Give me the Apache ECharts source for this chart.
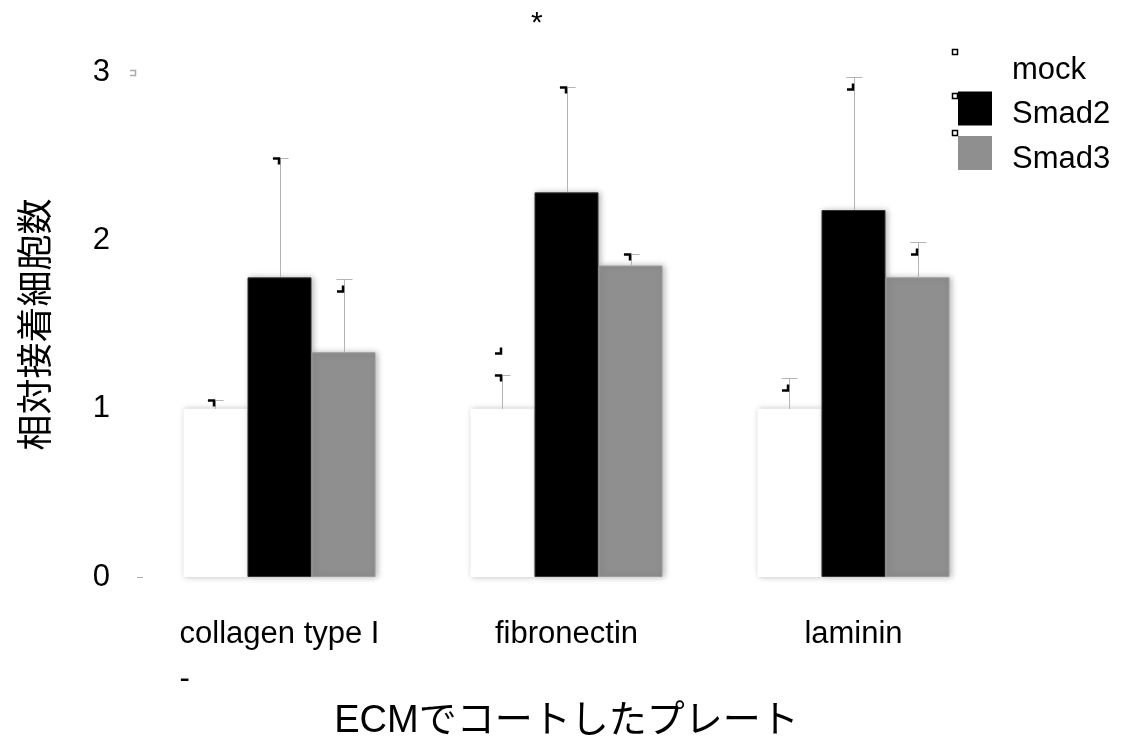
<!DOCTYPE html>
<html>
<head>
<meta charset="utf-8">
<script src="https://cdn.jsdelivr.net/npm/echarts@6/dist/echarts.min.js"></script>
<style>
  html, body { margin: 0; padding: 0; background: #ffffff; }
  #chart { width: 1126px; height: 740px; }
</style>
</head>
<body>
<div id="chart"></div>
<script>
// Plate coatings (second line of the first label is a stray dash)
const categories = ['collagen type I\n-', 'fibronectin', 'laminin'];
const seriesNames = ['mock', 'Smad2', 'Smad3'];

// Relative number of adherent cells (mean) per condition
const mockValues  = [1.00, 1.00, 1.00];
const smad2Values = [1.78, 2.285, 2.18];
const smad3Values = [1.335, 1.85, 1.78];

// Upper end of each error bar
const mockErrTop  = [1.05, 1.20, 1.18];
const smad2ErrTop = [2.49, 2.91, 2.97];
const smad3ErrTop = [1.77, 1.92, 1.99];

const yTicks = [0, 1, 2, 3];

const FONT = '"Liberation Sans", Arial, "Noto Sans CJK JP", sans-serif';
const BAR_FRAC = 0.223;
const colors = ['#ffffff', '#000000', '#8f8f8f'];

// small black corner glyph beside each cap: 'top' sits on the cap, 'below' hangs under it
const capGlyph = [
  ['top', 'top', 'below'],
  ['top+', 'top', 'top'],
  ['below', 'below', 'below']
];

function errRender(k) {
  return function (params, api) {
    const cat = api.value(0);
    const v = api.value(1);
    const e = api.value(2);
    const band = api.size([1, 0])[0];
    const bw = band * BAR_FRAC;
    const base = api.coord([cat, v]);
    const top = api.coord([cat, e]);
    const x = Math.round(base[0] + (k - 1) * bw) + 0.5;
    const yb = Math.round(base[1]);
    const yt = Math.round(top[1]) + 0.5;
    const grey = { stroke: '#b4b4b4', lineWidth: 1 };
    const children = [
      { type: 'line', shape: { x1: x, y1: yb, x2: x, y2: yt }, style: grey },
      { type: 'line', shape: { x1: x - 8, y1: yt, x2: x + 8, y2: yt }, style: grey }
    ];
    const blk = { stroke: '#000', lineWidth: 2.5, fill: null };
    const kind = capGlyph[cat][k];
    const gx = x - 1.5;
    if (kind === 'top' || kind === 'top+') {
      children.push({ type: 'polyline', shape: { points: [[gx - 6, yt], [gx, yt], [gx, yt + 6]] }, style: blk });
    }
    if (kind === 'top+') {
      const y2 = yt - 22;
      children.push({ type: 'polyline', shape: { points: [[gx, y2 - 6], [gx, y2], [gx - 6, y2]] }, style: blk });
    }
    if (kind === 'below') {
      const y2 = yt + 12;
      children.push({ type: 'polyline', shape: { points: [[gx, y2 - 6], [gx, y2], [gx - 6, y2]] }, style: blk });
    }
    return { type: 'group', children: children };
  };
}

function barSeries(name, values, k) {
  return {
    name: name,
    type: 'bar',
    data: values,
    barWidth: (BAR_FRAC * 100) + '%',
    barGap: '0%',
    itemStyle: {
      color: colors[k],
      borderColor: k === 2 ? '#9c9c9c' : (k === 1 ? '#333' : '#ffffff'),
      borderWidth: k === 0 ? 0 : 1,
      shadowBlur: 6,
      shadowOffsetX: 2,
      shadowColor: 'rgba(0,0,0,0.28)'
    },
    z: 2
  };
}

function errSeries(name, values, tops, k) {
  return {
    name: name + '-err',
    type: 'custom',
    renderItem: errRender(k),
    data: values.map((v, i) => [i, v, tops[i]]),
    encode: { x: 0, y: 1 },
    z: 5,
    silent: true,
    tooltip: { show: false }
  };
}

const chart = echarts.init(document.getElementById('chart'), null, { renderer: 'canvas' });

const option = {
  backgroundColor: '#ffffff',
  animation: false,
  textStyle: { fontFamily: FONT },
  grid: { left: 136, right: 129, top: 72, bottom: 163, containLabel: false, outerBoundsMode: 'none' },
  legend: {
    data: seriesNames,
    orient: 'vertical',
    left: 958,
    top: 45,
    padding: 0,
    itemWidth: 34,
    itemHeight: 34,
    itemGap: 4,
    icon: 'rect',
    itemStyle: { shadowBlur: 0, shadowColor: 'transparent', borderWidth: 0 },
    formatter: function (name) { return '{g| }\n{t|' + name + '}'; },
    textStyle: {
      fontSize: 31, color: '#000', fontFamily: FONT,
      rich: {
        g: { fontSize: 4, lineHeight: 12, padding: [0, 0, 0, 15] },
        t: { fontSize: 31, lineHeight: 34, color: '#000', fontFamily: FONT, padding: [0, 0, 0, 15] }
      }
    },
    selectedMode: false
  },
  xAxis: {
    type: 'category',
    data: categories,
    axisLine: { show: false },
    axisTick: { show: false },
    axisLabel: {
      interval: 0,
      margin: 35,
      formatter: function (v) {
        const parts = v.split('\n');
        return parts.map((p, i) => (i === 0 ? '{a|' + p + '}' : '{b|' + p + '}')).join('\n');
      },
      rich: {
        a: { fontSize: 31, color: '#000', fontFamily: FONT, lineHeight: 45 },
        b: { fontSize: 31, color: '#000', fontFamily: FONT, lineHeight: 45, align: 'left' }
      }
    },
    name: 'ECMでコートしたプレート',
    nameLocation: 'middle',
    nameGap: 126,
    nameTextStyle: { fontSize: 38, color: '#000', fontFamily: FONT }
  },
  yAxis: {
    type: 'value',
    min: yTicks[0],
    max: yTicks[yTicks.length - 1],
    interval: 1,
    axisLine: { show: false },
    axisTick: { show: false },
    splitLine: { show: false },
    axisLabel: { fontSize: 31, color: '#000', margin: 26, fontFamily: FONT, padding: [4, 0, 0, 0] },
    name: '相対接着細胞数',
    nameLocation: 'middle',
    nameGap: 80,
    nameRotate: 90,
    nameTextStyle: { fontSize: 36, color: '#000', fontFamily: FONT }
  },
  series: [
    barSeries('mock', mockValues, 0),
    barSeries('Smad2', smad2Values, 1),
    barSeries('Smad3', smad3Values, 2),
    errSeries('mock', mockValues, mockErrTop, 0),
    errSeries('Smad2', smad2Values, smad2ErrTop, 1),
    errSeries('Smad3', smad3Values, smad3ErrTop, 2)
  ]
};

chart.setOption(option);

// Significance star, legend handles and faint tick remnants
const p0 = chart.convertToPixel({ yAxisIndex: 0 }, yTicks[0]);
const p3 = chart.convertToPixel({ yAxisIndex: 0 }, yTicks[3]);
const handle = (x, y) => ({
  type: 'rect', shape: { x: x, y: y, width: 5, height: 5 },
  style: { fill: '#fff', stroke: '#000', lineWidth: 1.5 }, z: 100
});
chart.setOption({
  graphic: [
    { type: 'text', left: 531, top: 9, style: { text: '*', font: '30px ' + FONT, fill: '#000' }, z: 100 },
    handle(952.5, 49.5),
    handle(952.5, 93.5),
    handle(952.5, 130.5),
    { type: 'line', shape: { x1: 137, y1: Math.round(p0) + 0.5, x2: 143, y2: Math.round(p0) + 0.5 },
      style: { stroke: '#aaa', lineWidth: 1 }, z: 100 },
    { type: 'polyline', shape: { points: [[130, Math.round(p3) - 1.5], [135.5, Math.round(p3) - 1.5], [135.5, Math.round(p3) + 3.5], [130, Math.round(p3) + 3.5]] },
      style: { stroke: '#aaa', lineWidth: 1.5, fill: null }, z: 100 }
  ]
});
</script>
</body>
</html>
